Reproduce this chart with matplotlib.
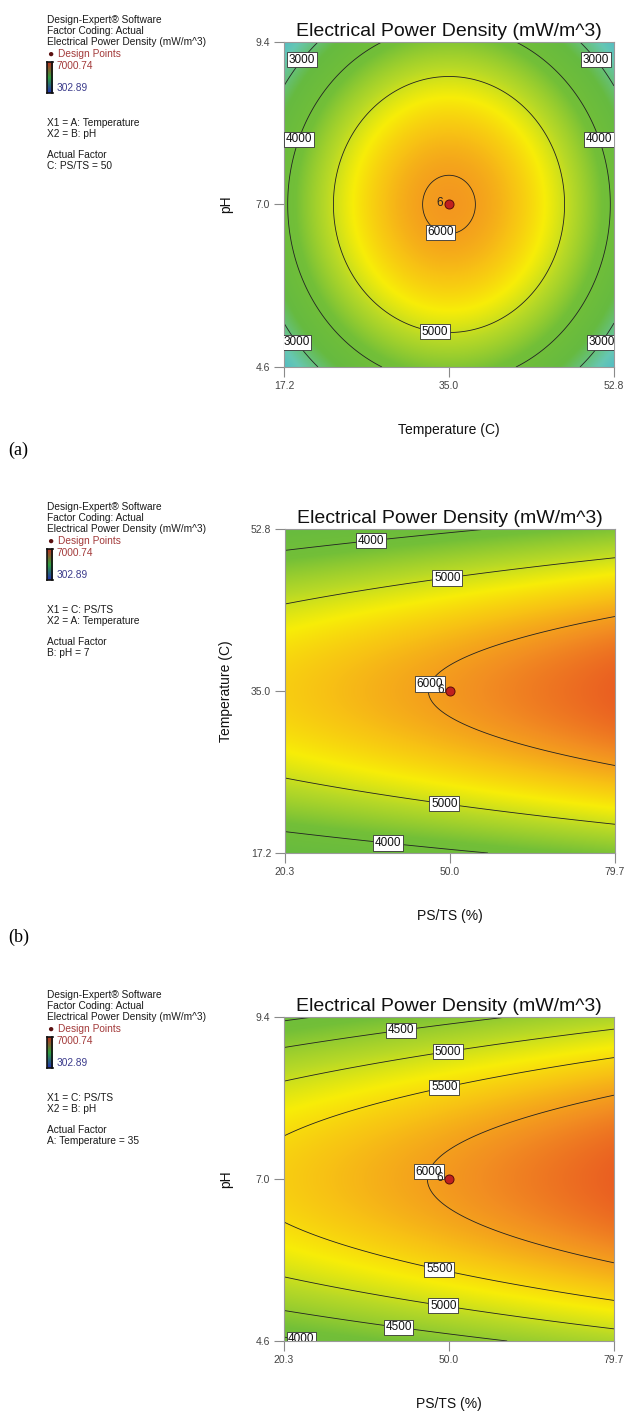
import numpy as np
import matplotlib
matplotlib.use('Agg')
import matplotlib.pyplot as plt
from matplotlib.colors import LinearSegmentedColormap

plt.rcParams['font.family'] = ['Liberation Sans', 'DejaVu Sans']

# factor ranges (actual units), low / centre / high
temp_ticks = [17.2, 35.0, 52.8]
ph_ticks = [4.6, 7.0, 9.4]
psts_ticks = [20.3, 50.0, 79.7]

# quadratic response surface in coded units
b0 = 6055.0
bA, bB, bC = 0.0, 0.0, 417.5
bAB, bAC, bBC = 0.0, 0.0, 0.0
bAA, bBB, bCC = -2150.0, -1700.0, -17.5

resp_min, resp_max = 302.89, 7000.74

# per panel
x_factor = ['A', 'C', 'C']
y_factor = ['B', 'A', 'B']
x_names = ['Temperature (C)', 'PS/TS (%)', 'PS/TS (%)']
y_names = ['pH', 'Temperature (C)', 'pH']
x1_text = ['X1 = A: Temperature', 'X1 = C: PS/TS', 'X1 = C: PS/TS']
x2_text = ['X2 = B: pH', 'X2 = A: Temperature', 'X2 = B: pH']
held_text = ['C: PS/TS = 50', 'B: pH = 7', 'A: Temperature = 35']
panel_tags = ['(a)', '(b)', None]
levels = [[3000, 4000, 5000, 6000],
          [4000, 5000, 6000],
          [4000, 4500, 5000, 5500, 6000]]
# approximate label spots (coded units)
label_spots = [
    [(-0.90, 0.90), (0.90, 0.90), (-0.91, 0.40), (0.905, 0.40), (-0.04, -0.14),
     (-0.08, -0.73), (-0.90, -0.83), (0.90, -0.83)],
    [(-0.48, 0.955), (-0.02, 0.73), (-0.137, 0.05), (-0.03, -0.66), (-0.37, -0.90)],
    [(-0.294, 0.949), (-0.012, 0.815), (-0.036, 0.60), (-0.133, 0.05),
     (-0.05, -0.516), (-0.028, -0.739), (-0.30, -0.868), (-0.889, -0.948)],
]
n_replicates = 6

ticks = {'A': temp_ticks, 'B': ph_ticks, 'C': psts_ticks}

cmap = LinearSegmentedColormap.from_list('de', [
    (0.00, (0.15, 0.25, 0.80)),
    (0.22, (0.25, 0.70, 0.85)),
    (0.34, (0.40, 0.78, 0.70)),
    (0.46, (0.40, 0.73, 0.25)),
    (0.58, (0.45, 0.75, 0.22)),
    (0.68, (0.72, 0.85, 0.15)),
    (0.75, (0.97, 0.93, 0.03)),
    (0.81, (0.97, 0.76, 0.08)),
    (0.87, (0.95, 0.56, 0.13)),
    (0.93, (0.91, 0.33, 0.13)),
    (1.00, (0.86, 0.20, 0.12)),
], N=2048)


def predict(a, b, c):
    return (b0 + bA * a + bB * b + bC * c + bAB * a * b + bAC * a * c + bBC * b * c
            + bAA * a ** 2 + bBB * b ** 2 + bCC * c ** 2)


W, H = 624, 1411
fig = plt.figure(figsize=(W / 100, H / 100), dpi=100)

# axes boxes in pixels: left, top, right, bottom
boxes = [(284, 42, 614, 367), (285, 529, 615, 853), (284, 1017, 614, 1341)]
offsets = [0, 487, 975]
tag_y = [450, 937]

u = np.linspace(-1, 1, 401)
U, V = np.meshgrid(u, u)

for i in range(3):
    l, t, r, b = boxes[i]
    ax = fig.add_axes([l / W, 1 - b / H, (r - l) / W, (b - t) / H])

    coded = {'A': np.zeros_like(U), 'B': np.zeros_like(U), 'C': np.zeros_like(U)}
    coded[x_factor[i]] = U
    coded[y_factor[i]] = V
    Z = predict(coded['A'], coded['B'], coded['C'])

    xt = ticks[x_factor[i]]
    yt = ticks[y_factor[i]]
    X = xt[1] + U * (xt[2] - xt[1])
    Y = yt[1] + V * (yt[2] - yt[1])

    ax.imshow(Z, extent=[xt[0], xt[2], yt[0], yt[2]], origin='lower', aspect='auto',
              cmap=cmap, vmin=resp_min, vmax=resp_max, interpolation='bilinear',
              interpolation_stage='rgba')
    cs = ax.contour(X, Y, Z, levels=levels[i], colors='#222222', linewidths=0.6)
    spots = [(xt[1] + p[0] * (xt[2] - xt[1]), yt[1] + p[1] * (yt[2] - yt[1]))
             for p in label_spots[i]]
    lbls = ax.clabel(cs, fmt='%d', fontsize=8.5, inline=False, manual=spots)
    for txt in lbls:
        txt.set_rotation(0)
        txt.set_color('#111111')
        txt.set_bbox(dict(boxstyle='square,pad=0.14', fc='white', ec='#333333', lw=0.6))

    # design point at the centre
    ax.plot(xt[1], yt[1], 'o', ms=6.5, mfc='#c0201e', mec='#5a0a0a', mew=0.7, zorder=5)
    ax.annotate(str(n_replicates), (xt[1], yt[1]), xytext=(-7, 1), textcoords='offset points',
                ha='center', va='center', fontsize=8.5, color='#222222', zorder=6)

    ax.set_xlim(xt[0], xt[2])
    ax.set_ylim(yt[0], yt[2])
    ax.set_xticks(xt)
    ax.set_yticks(yt)
    ax.set_xticklabels(['%.1f' % v for v in xt])
    ax.set_yticklabels(['%.1f' % v for v in yt])
    ax.tick_params(length=7, width=0.8, color='#8a8a8a', labelsize=7.5, labelcolor='#444444',
                   pad=3)
    for sp in ax.spines.values():
        sp.set_color('#9a9a9a')
        sp.set_linewidth(0.8)

    ax.set_title('Electrical Power Density (mW/m^3)', fontsize=14, pad=4, color='#111111')
    ax.set_xlabel(x_names[i], fontsize=10, va='center', color='#111111')
    ax.xaxis.set_label_coords(0.5, -63 / (b - t))
    ax.set_ylabel(y_names[i], fontsize=10, va='center', color='#111111')
    ax.yaxis.set_label_coords(-(l - 226) / (r - l), 0.5)

    # Design-Expert side legend
    o = offsets[i]
    fs = 7.3

    def put(y, s, x=47, c='#1a1a1a'):
        fig.text(x / W, 1 - (y + o) / H, s, fontsize=fs, color=c, ha='left', va='center')

    put(20, 'Design-Expert® Software')
    put(31, 'Factor Coding: Actual')
    put(42, 'Electrical Power Density (mW/m^3)')
    fig.text(50 / W, 1 - (54 + o) / H, '●', fontsize=7.5, color='#5a1010', ha='center',
             va='center')
    put(54, 'Design Points', x=57.5, c='#a33a3a')
    put(66, '7000.74', x=57, c='#a33a3a')
    put(88, '302.89', x=57, c='#3c3c8c')
    put(123, x1_text[i])
    put(134, x2_text[i])
    put(155, 'Actual Factor')
    put(166, held_text[i])

    cax = fig.add_axes([47 / W, 1 - (93 + o) / H, 5.5 / W, 31 / H])
    cax.imshow(np.linspace(0, 1, 64)[:, None], cmap=LinearSegmentedColormap.from_list(
        'bar', ['#2030b0', '#30a040', '#c03020']), aspect='auto', origin='lower')
    cax.set_xticks([])
    cax.set_yticks([])
    for sp in cax.spines.values():
        sp.set_linewidth(1.2)
        sp.set_color('#111111')

    if panel_tags[i]:
        fig.text(8 / W, 1 - tag_y[i] / H, panel_tags[i], fontsize=13, ha='left', va='center',
                 family='Liberation Serif')

fig.savefig('out.png', dpi=100)
